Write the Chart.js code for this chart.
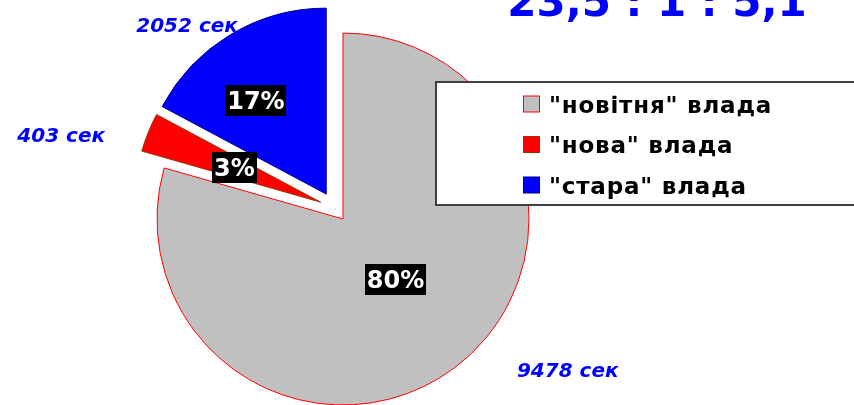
<!DOCTYPE html>
<html>
<head>
<meta charset="utf-8">
<script src="https://cdn.jsdelivr.net/npm/chart.js@4.4.1/dist/chart.umd.min.js"></script>
<style>
  html, body { margin: 0; padding: 0; background: #ffffff; overflow: hidden; }
  canvas { display: block; }
</style>
</head>
<body>
<canvas id="chart" width="854" height="405"></canvas>
<script>
// Time on air, seconds, per group
const categories = ['"новітня" влада', '"нова" влада', '"стара" влада'];
const seconds = [9478, 403, 2052];
const percentLabels = ['80%', '3%', '17%'];
const unit = 'сек';

// Styling
const fillColors = ['#C0C0C0', '#FF0000', '#0000FF'];
const edgeColors = ['#FF0000', '#993300', '#000080'];
// how far each slice is pulled out: distance (px) and direction tweak (deg)
const explode = [{ d: 0, a: 0 }, { d: 28, a: 15 }, { d: 30, a: -3 }];
// label placement relative to each slice centre: distance (px) and angle tweak (deg)
const pctPlace = [{ d: 80, a: -4 }, { d: 93, a: 0 }, { d: 117, a: -6 }];
const valPlace = [{ d: 271, a: -19 }, { d: 268, a: -7.5 }, { d: 219, a: -8.5 }];

const FONT = '"DejaVu Sans", Verdana, sans-serif';

// Ratio headline, e.g. 23,5 : 1 : 5,1
const base = Math.min(...seconds);
const fmtRatio = v => {
  const r = Math.round(v * 10) / 10;
  return Number.isInteger(r) ? String(r) : r.toFixed(1).replace('.', ',');
};
const ratioText = seconds.map(v => fmtRatio(v / base)).join(' : ');

function sliceCentre(el, i) {
  const mid = (el.startAngle + el.endAngle) / 2;
  const dir = mid + explode[i].a * Math.PI / 180;
  return { x: el.x + Math.cos(dir) * explode[i].d, y: el.y + Math.sin(dir) * explode[i].d, mid };
}

const explodedPie = {
  id: 'explodedPie',
  beforeDatasetDraw(chart, args) {
    const ctx = chart.ctx;
    args.meta.data.forEach((el, i) => {
      const c = sliceCentre(el, i);
      ctx.save();
      ctx.translate(c.x - el.x, c.y - el.y);
      el.draw(ctx);
      ctx.restore();
    });
    return false;
  },
  afterDraw(chart) {
    const ctx = chart.ctx;
    const arcs = chart.getDatasetMeta(0).data;

    arcs.forEach((el, i) => {
      const c = sliceCentre(el, i);

      // percentage tag: white on black
      const p = pctPlace[i];
      const ap = c.mid + p.a * Math.PI / 180;
      const px = c.x + Math.cos(ap) * p.d;
      const py = c.y + Math.sin(ap) * p.d;
      ctx.save();
      ctx.font = 'bold 24px ' + FONT;
      const w = ctx.measureText(percentLabels[i]).width + 4;
      ctx.fillStyle = '#000000';
      ctx.fillRect(Math.round(px - w / 2), Math.round(py - 15.5), Math.round(w), 31);
      ctx.fillStyle = '#FFFFFF';
      ctx.textAlign = 'center';
      ctx.textBaseline = 'alphabetic';
      ctx.fillText(percentLabels[i], px, py + 8.5);
      ctx.restore();

      // value in seconds
      const v = valPlace[i];
      const av = c.mid + v.a * Math.PI / 180;
      const vx = c.x + Math.cos(av) * v.d;
      const vy = c.y + Math.sin(av) * v.d;
      ctx.save();
      ctx.font = 'italic bold 20px ' + FONT;
      ctx.fillStyle = '#0000FF';
      ctx.textAlign = 'center';
      ctx.textBaseline = 'alphabetic';
      ctx.fillText(seconds[i] + ' ' + unit, vx, vy + 7);
      ctx.restore();
    });

    // legend panel
    ctx.save();
    ctx.fillStyle = '#FFFFFF';
    ctx.fillRect(436, 82, 430, 123);
    ctx.strokeStyle = '#404040';
    ctx.lineWidth = 2;
    ctx.strokeRect(436, 82, 430, 123);
    ctx.font = 'bold 23px ' + FONT;
    ctx.letterSpacing = '0.8px';
    ctx.textBaseline = 'alphabetic';
    ctx.textAlign = 'left';
    categories.forEach((name, i) => {
      const baseY = 112.5 + i * 40.5;
      ctx.fillStyle = fillColors[i];
      ctx.fillRect(523.5, baseY - 16.5, 16, 16);
      ctx.strokeStyle = edgeColors[i];
      ctx.lineWidth = 1;
      ctx.strokeRect(523.5, baseY - 16.5, 16, 16);
      ctx.fillStyle = '#000000';
      ctx.fillText(name, 549, baseY);
    });
    ctx.restore();

    // ratio headline
    ctx.save();
    ctx.font = 'bold 42px ' + FONT;
    ctx.fillStyle = '#0000FF';
    ctx.textAlign = 'center';
    ctx.textBaseline = 'alphabetic';
    ctx.fillText(ratioText, 657, 16);
    ctx.restore();
  }
};

new Chart(document.getElementById('chart'), {
  type: 'pie',
  data: {
    labels: categories,
    datasets: [{
      data: seconds,
      backgroundColor: fillColors,
      borderColor: edgeColors,
      borderWidth: 1
    }]
  },
  options: {
    responsive: false,
    animation: false,
    radius: 186,
    layout: { padding: { left: 0, right: 168, top: 33, bottom: 0 } },
    plugins: {
      legend: { display: false },
      tooltip: { enabled: false }
    }
  },
  plugins: [explodedPie]
});
</script>
</body>
</html>
